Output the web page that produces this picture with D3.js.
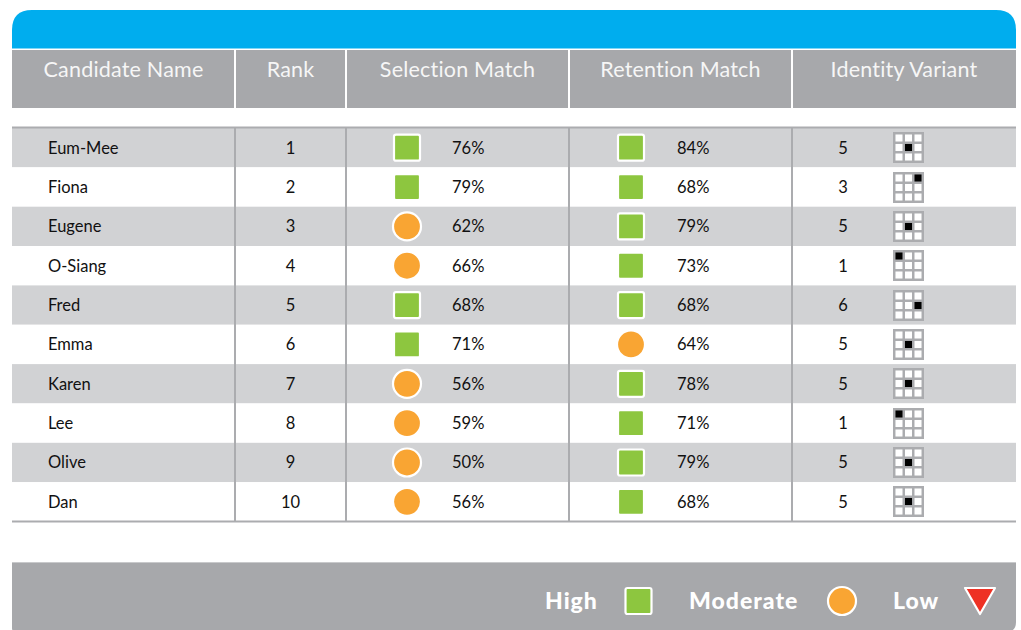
<!DOCTYPE html>
<html>
<head>
<meta charset="utf-8">
<script src="https://cdn.jsdelivr.net/npm/d3@7"></script>
<style>
  html, body { margin: 0; padding: 0; background: #fff; }
  svg { display: block; }
  text { font-family: Lato, "Open Sans", sans-serif; }
</style>
</head>
<body>
<svg id="chart" width="1021" height="630"></svg>
<script>
// ---- data ----
const columns = ["Candidate Name", "Rank", "Selection Match", "Retention Match", "Identity Variant"];
const names = ["Eum-Mee", "Fiona", "Eugene", "O-Siang", "Fred", "Emma", "Karen", "Lee", "Olive", "Dan"];
const ranks = [1, 2, 3, 4, 5, 6, 7, 8, 9, 10];
const selection = [76, 79, 62, 66, 68, 71, 56, 59, 50, 56];
const selectionLevel = ["High", "High", "Moderate", "Moderate", "High", "High", "Moderate", "Moderate", "Moderate", "Moderate"];
const retention = [84, 68, 79, 73, 68, 64, 78, 71, 79, 68];
const retentionLevel = ["High", "High", "High", "High", "High", "Moderate", "High", "High", "High", "High"];
const identity = [5, 3, 5, 1, 6, 5, 5, 1, 5, 5];
const legendItems = ["High", "Moderate", "Low"];

// ---- styles ----
const C = {
  blue: "#00ADEE", gray: "#A7A8AB", stripe: "#D1D2D4", line: "#ABACAF",
  green: "#8DC63F", orange: "#F9A533", red: "#EE3124", text: "#111", head: "#F6F6F6"
};

const svg = d3.select("#chart");
const L = 12, R = 1016;
const colEdges = [12, 235, 346, 569, 792, 1016];

// column scale (band by column name with explicit edges)
const colX = d3.scaleOrdinal().domain(columns).range(colEdges.slice(0, 5));
const colW = d3.scaleOrdinal().domain(columns).range(colEdges.slice(1).map((e, i) => e - colEdges[i]));

// row scale
const y = d3.scaleBand().domain(names).range([128, 521.5]).paddingInner(0).paddingOuter(0);

// ---- header ----
const rad = 20, hTop = 10, blueB = 48.5;
svg.append("path")
  .attr("d", `M${L},${blueB} V${hTop + rad} Q${L},${hTop} ${L + rad},${hTop} H${R - rad} Q${R},${hTop} ${R},${hTop + rad} V${blueB} Z`)
  .attr("fill", C.blue);
svg.append("rect").attr("x", L).attr("y", 50).attr("width", R - L).attr("height", 58).attr("fill", C.gray);

svg.selectAll("line.hdiv").data(colEdges.slice(1, 5)).join("line")
  .attr("class", "hdiv")
  .attr("x1", d => d).attr("x2", d => d).attr("y1", 50).attr("y2", 108)
  .attr("stroke", "#fff").attr("stroke-width", 2);

svg.selectAll("text.head").data(columns).join("text")
  .attr("class", "head")
  .attr("x", d => colX(d) + colW(d) / 2)
  .attr("y", 77)
  .attr("text-anchor", "middle")
  .attr("fill", C.head)
  .attr("font-size", 21.5)
  .attr("letter-spacing", 0.2)
  .text(d => d);

// ---- body rows ----
const rows = names.map((n, i) => ({
  name: n, rank: ranks[i], sel: selection[i], selL: selectionLevel[i],
  ret: retention[i], retL: retentionLevel[i], id: identity[i], i
}));

svg.selectAll("rect.stripe").data(rows).join("rect")
  .attr("class", "stripe")
  .attr("x", L).attr("width", R - L)
  .attr("y", d => y(d.name)).attr("height", y.bandwidth())
  .attr("fill", d => d.i % 2 === 0 ? C.stripe : "#fff");

// top and bottom rules
svg.append("line").attr("x1", L).attr("x2", R).attr("y1", 127.5).attr("y2", 127.5)
  .attr("stroke", C.line).attr("stroke-width", 2);
svg.append("line").attr("x1", L).attr("x2", R).attr("y1", 521.5).attr("y2", 521.5)
  .attr("stroke", C.line).attr("stroke-width", 2);

svg.selectAll("line.bdiv").data(colEdges.slice(1, 5)).join("line")
  .attr("class", "bdiv")
  .attr("x1", d => d).attr("x2", d => d).attr("y1", 127).attr("y2", 521)
  .attr("stroke", C.line).attr("stroke-width", 2);

const cy = d => y(d.name) + y.bandwidth() / 2;
const fs = 16.5;

// names
svg.selectAll("text.name").data(rows).join("text")
  .attr("class", "name")
  .attr("x", 48).attr("y", cy).attr("dy", "0.36em")
  .attr("font-size", fs).attr("fill", C.text).text(d => d.name);

// rank
svg.selectAll("text.rank").data(rows).join("text")
  .attr("class", "rank")
  .attr("x", colX("Rank") + colW("Rank") / 2).attr("y", cy).attr("dy", "0.36em")
  .attr("text-anchor", "middle")
  .attr("font-size", fs).attr("fill", C.text).text(d => d.rank);

// marker drawer
function marker(g, level, cx, cyv, size) {
  if (level === "High") {
    g.append("rect").attr("x", cx - size / 2).attr("y", cyv - size / 2)
      .attr("width", size).attr("height", size).attr("rx", 2)
      .attr("fill", C.green).attr("stroke", "#fff").attr("stroke-width", 2.2);
  } else if (level === "Moderate") {
    g.append("circle").attr("cx", cx).attr("cy", cyv).attr("r", size / 2 + 1)
      .attr("fill", C.orange).attr("stroke", "#fff").attr("stroke-width", 2.2);
  } else {
    const h = size;
    g.append("path")
      .attr("d", `M${cx - size / 2 - 2},${cyv - h / 2} L${cx + size / 2 + 2},${cyv - h / 2} L${cx},${cyv + h / 2} Z`)
      .attr("fill", C.red).attr("stroke", "#fff").attr("stroke-width", 2.2).attr("stroke-linejoin", "round");
  }
}

const pct = d3.format("d");
function matchColumn(col, valKey, levKey, markerX, textX) {
  const g = svg.append("g");
  rows.forEach(d => marker(g, d[levKey], markerX, cy(d), 26));
  g.selectAll("text").data(rows).join("text")
    .attr("x", textX).attr("y", cy).attr("dy", "0.36em")
    .attr("font-size", fs).attr("fill", C.text)
    .text(d => pct(d[valKey]) + "%");
}
matchColumn("Selection Match", "sel", "selL", colX("Selection Match") + 61, colX("Selection Match") + 106);
matchColumn("Retention Match", "ret", "retL", colX("Retention Match") + 62, colX("Retention Match") + 108);

// identity variant number + 3x3 grid
const idX = colX("Identity Variant");
svg.selectAll("text.idn").data(rows).join("text")
  .attr("class", "idn")
  .attr("x", idX + 51).attr("y", cy).attr("dy", "0.36em")
  .attr("text-anchor", "middle")
  .attr("font-size", fs).attr("fill", C.text).text(d => d.id);

const gs = 31;
const cell = d3.scaleBand().domain([0, 1, 2]).range([0, gs]).paddingInner(0.26).paddingOuter(0.26);
rows.forEach(d => {
  const gx = idX + 101, gy = Math.round(cy(d) - gs / 2);
  const g = svg.append("g").attr("transform", `translate(${gx},${gy})`);
  g.append("rect").attr("width", gs).attr("height", gs).attr("fill", C.line);
  const cells = d3.range(9).map(k => ({ k, c: k % 3, r: Math.floor(k / 3) }));
  g.selectAll("rect.cell").data(cells).join("rect")
    .attr("class", "cell")
    .attr("x", c => cell(c.c)).attr("y", c => cell(c.r))
    .attr("width", cell.bandwidth()).attr("height", cell.bandwidth())
    .attr("fill", c => (c.k + 1) === d.id ? "#000" : "#fff");
});

// ---- footer legend ----
svg.append("path")
  .attr("d", `M${L},562 H${R} V${622} Q${R},632 ${R - 10},632 H${L + 4} Q${L},632 ${L},628 Z`)
  .attr("fill", C.gray);
svg.append("line").attr("x1", L).attr("x2", R).attr("y1", 562.5).attr("y2", 562.5)
  .attr("stroke", "#C8C9CB").attr("stroke-width", 1);

const legX = { High: 545, Moderate: 689, Low: 893 };
const legM = { High: 638.5, Moderate: 842, Low: 980 };
const lg = svg.append("g");
lg.selectAll("text").data(legendItems).join("text")
  .attr("x", d => legX[d]).attr("y", 601).attr("dy", "0.36em")
  .attr("font-size", 23).attr("font-weight", 900).attr("letter-spacing", 1)
  .attr("fill", "#fff")
  .text(d => d);
legendItems.forEach(d => marker(lg, d, legM[d], 601, 26));
</script>
</body>
</html>
